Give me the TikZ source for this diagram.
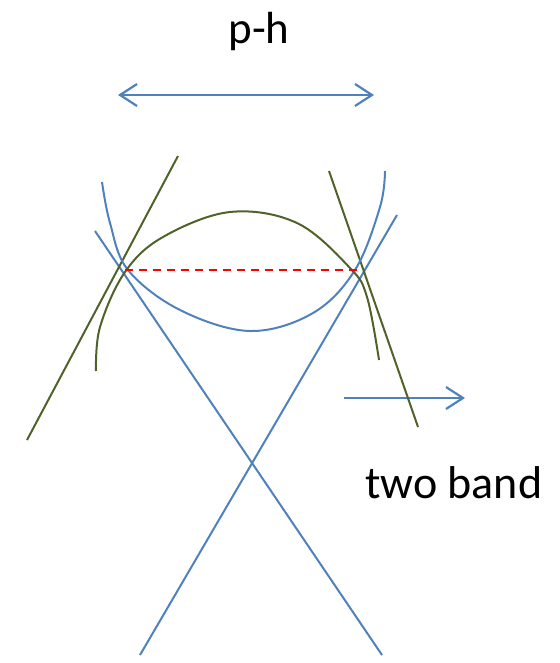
\documentclass[tikz,border=0pt]{standalone}
\usepackage{fontspec}
\setmainfont{Carlito}
\usetikzlibrary{arrows.meta}
\definecolor{bandblue}{HTML}{4F81BD}
\definecolor{bandgreen}{HTML}{4F6228}
\tikzset{
  blueline/.style={draw=bandblue, line width=2pt},
  greenline/.style={draw=bandgreen, line width=2pt},
  barb/.style={-{Straight Barb[length=17pt,width=22pt,line width=2.2pt]}},
  dbarb/.style={{Straight Barb[length=17pt,width=22pt,line width=2.2pt]}-{Straight Barb[length=17pt,width=22pt,line width=2.2pt]}},
  label/.style={font=\fontsize{45}{50}\selectfont, inner sep=0pt}
}
\begin{document}
\begin{tikzpicture}[x=1pt,y=-1pt]
\useasboundingbox (0,0) rectangle (559,663);
% texts
\node[label, anchor=base] (ph) at (259,44) {p-h};
\node[label, font=\fontsize{46}{50}\selectfont, anchor=base west] (tb) at (365,498) {two band};
% p-h double arrow
\coordinate (pl) at (118,95);
\coordinate (pr) at (374,95);
\draw[blueline, dbarb] (pl) -- (pr);
% two band arrow
\coordinate (tl) at (344,398);
\coordinate (tr) at (465,398);
\draw[blueline, barb] (tl) -- (tr);
% blue X lines
\coordinate (xa1) at (95,231);
\coordinate (xa2) at (382,655);
\coordinate (xb1) at (397,215);
\coordinate (xb2) at (140,655);
\draw[blueline] (xa1) -- (xa2);
\draw[blueline] (xb1) -- (xb2);
% green straight lines
\coordinate (ga1) at (178,156);
\coordinate (ga2) at (27,440);
\coordinate (gb1) at (329,171);
\coordinate (gb2) at (418,427);
\draw[greenline] (ga1) -- (ga2);
\draw[greenline] (gb1) -- (gb2);
% blue parabola
\draw[blueline] plot[smooth, tension=0.6] coordinates {
  (102,182) (110,223) (128,270) (180,310) (250,331) (313,313) (355,270) (380,207) (385,171)};
% green dome
\draw[greenline] plot[smooth, tension=0.6] coordinates {
  (96,371) (100,327) (125,272) (163,237) (230,212) (297,223) (350,268) (367,297) (379,360)};
% red dashed
\coordinate (rl) at (125,270);
\coordinate (rr) at (358,270);
\draw[draw=red, line width=1.6pt, dash pattern=on 8pt off 6pt] (rl) -- (rr);
\end{tikzpicture}
\end{document}
